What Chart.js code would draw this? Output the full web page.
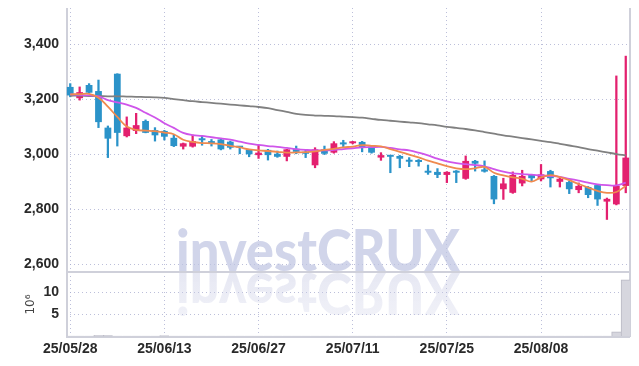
<!DOCTYPE html>
<html>
<head>
<meta charset="utf-8">
<script src="https://cdn.jsdelivr.net/npm/chart.js@4.4.1/dist/chart.umd.min.js"></script>
<style>
  html, body { margin: 0; padding: 0; background: #fff; }
  #wrap { width: 639px; height: 366px; position: relative; }
</style>
</head>
<body>
<div id="wrap"><canvas id="chart"></canvas></div>
<script>
// ---------- Data ----------
const dates = [
  '25/05/28','25/05/29','25/05/30','25/06/02','25/06/04','25/06/05','25/06/09','25/06/10','25/06/11','25/06/12',
  '25/06/13','25/06/16','25/06/17','25/06/18','25/06/19','25/06/20','25/06/23','25/06/24','25/06/25','25/06/26',
  '25/06/27','25/06/30','25/07/01','25/07/02','25/07/03','25/07/04','25/07/07','25/07/08','25/07/09','25/07/10',
  '25/07/11','25/07/14','25/07/15','25/07/16','25/07/17','25/07/18','25/07/21','25/07/22','25/07/23','25/07/24',
  '25/07/25','25/07/28','25/07/29','25/07/30','25/07/31','25/08/01','25/08/04','25/08/05','25/08/06','25/08/07',
  '25/08/08','25/08/11','25/08/12','25/08/13','25/08/14','25/08/18','25/08/19','25/08/20','25/08/21','25/08/22'
];

const opens = [
  3244, 3203, 3251, 3229, 3096, 3292, 3065, 3084, 3120, 3087,
  3084, 3059, 3027, 3027, 3057, 3047, 3053, 3045, 3027, 3015,
  2996, 3015, 3001, 2990, 3019, 3007, 2959, 3017, 3005, 3039,
  3039, 3044, 3027, 2987, 2993, 2993, 2975, 2978, 2938, 2935,
  2924, 2936, 2910, 2975, 2944, 2920, 2872, 2859, 2893, 2924,
  2908, 2938, 2899, 2898, 2869, 2880, 2887, 2827, 2817, 2884
];
const highs = [
  3256, 3244, 3256, 3269, 3102, 3292, 3135, 3148, 3124, 3096,
  3086, 3069, 3040, 3069, 3065, 3053, 3055, 3047, 3028, 3016,
  3032, 3017, 3011, 3017, 3029, 3017, 3023, 3029, 3045, 3050,
  3046, 3046, 3029, 3005, 2994, 2995, 2987, 2980, 2960, 2947,
  2936, 2940, 2993, 2977, 2975, 2922, 2912, 2935, 2941, 2926,
  2962, 2941, 2912, 2901, 2895, 2882, 2889, 2840, 3284, 3356
];
const lows = [
  3208, 3196, 3222, 3096, 2987, 3029, 3062, 3074, 3077, 3047,
  3051, 3027, 3018, 3025, 3032, 3029, 3015, 3018, 3001, 2990,
  2984, 2978, 2988, 2975, 3001, 2987, 2950, 2998, 3003, 3027,
  3037, 3008, 3003, 2977, 2932, 2950, 2954, 2956, 2926, 2914,
  2896, 2896, 2908, 2938, 2934, 2819, 2835, 2857, 2884, 2900,
  2902, 2880, 2880, 2856, 2859, 2841, 2813, 2762, 2815, 2859
];
const closes = [
  3213, 3225, 3223, 3116, 3056, 3077, 3096, 3105, 3077, 3068,
  3063, 3029, 3039, 3047, 3050, 3039, 3017, 3023, 3023, 2999,
  3005, 2996, 2990, 3017, 3008, 3001, 3017, 3001, 3039, 3035,
  3045, 3023, 3005, 2996, 2990, 2983, 2972, 2971, 2932, 2924,
  2935, 2932, 2975, 2965, 2936, 2835, 2893, 2924, 2920, 2912,
  2926, 2912, 2910, 2872, 2884, 2851, 2835, 2837, 2884, 2987
];
// volume in millions
const volumes = [
  0.02, 0.02, 0.02, 0.2, 0.2, 0.02, 0.02, 0.02, 0.02, 0.02,
  0.15, 0.02, 0.02, 0.02, 0.02, 0.02, 0.02, 0.02, 0.02, 0.02,
  0.02, 0.02, 0.02, 0.02, 0.02, 0.02, 0.02, 0.02, 0.02, 0.02,
  0.02, 0.02, 0.02, 0.02, 0.02, 0.02, 0.02, 0.02, 0.02, 0.02,
  0.02, 0.02, 0.02, 0.02, 0.02, 0.02, 0.02, 0.02, 0.02, 0.02,
  0.02, 0.02, 0.02, 0.02, 0.02, 0.02, 0.02, 0.02, 1.0, 12.8
];

const maShort = [
  3217, 3218, 3219, 3205, 3172, 3135, 3100, 3088, 3085, 3083,
  3078, 3072, 3052, 3044, 3040, 3039, 3036, 3030, 3024, 3017,
  3013, 3011, 3008, 3005, 3006, 3007, 3010, 3015, 3019, 3024,
  3027, 3032, 3030, 3028, 3018, 3008, 2998, 2988, 2976, 2966,
  2956, 2948, 2945, 2948, 2953, 2932, 2922, 2915, 2910, 2900,
  2915, 2923, 2916, 2905, 2891, 2878, 2866, 2859, 2862, 2884
];
const maMid = [
  3217, 3215, 3213, 3210, 3196, 3188, 3180, 3168, 3150, 3133,
  3112, 3095, 3077, 3069, 3066, 3061, 3057, 3052, 3045, 3038,
  3033, 3029, 3026, 3022, 3018, 3015, 3013, 3013, 3015, 3018,
  3021, 3024, 3025, 3026, 3022, 3017, 3013, 3005, 2995, 2983,
  2973, 2967, 2963, 2960, 2955, 2945, 2936, 2930, 2927, 2925,
  2922, 2920, 2917, 2910, 2903, 2896, 2890, 2887, 2886, 2896
];
const maLong = [
  3212, 3212, 3211, 3211, 3210, 3210, 3209, 3208, 3207, 3206,
  3204, 3200, 3196, 3192, 3189, 3186, 3183, 3180, 3177, 3174,
  3171, 3167, 3160, 3153, 3146, 3142, 3140, 3139, 3138, 3136,
  3134, 3132, 3128, 3124, 3121, 3118, 3115, 3112, 3108, 3104,
  3099, 3095, 3091, 3086, 3080, 3074, 3068, 3063, 3058, 3053,
  3048, 3043, 3037, 3031, 3025, 3018, 3012, 3006, 3000, 2995
];

const priceTicks = [2600, 2800, 3000, 3200, 3400];
const volumeTicks = [5, 10];
const dateTickIdx = [0, 10, 20, 30, 40, 50];

// ---------- Styles ----------
const UP = '#e3206f';
const DOWN = '#2b93c9';
const GRID = 'rgba(165,170,205,0.75)';
const FRAME = '#cfd0da';
const TICK_FONT = { family: '"Liberation Sans", Arial, sans-serif', size: 14, weight: 'bold' };

const candleColors = opens.map((o, i) => closes[i] >= o ? UP : DOWN);
const bodies = opens.map((o, i) => ({ x: i, y: [Math.min(o, closes[i]), Math.max(o, closes[i])] }));
const wicks = lows.map((l, i) => ({ x: i, y: [l, highs[i]] }));
const vols = volumes.map((v, i) => ({ x: i, y: v }));
const line = arr => arr.map((v, i) => ({ x: i, y: v }));

// no extra label padding, the panel edges are fixed by the layout padding
function noPad(s) {
  s.paddingTop = 0; s.paddingBottom = 0; s.paddingLeft = 0; s.paddingRight = 0;
}

// ---------- Plugins ----------
const watermark = {
  id: 'watermark',
  beforeDatasetsDraw(chart) {
    const ctx = chart.ctx;
    const txt = 'investCRUX';
    ctx.save();
    ctx.font = '900 58px Lato, "Liberation Sans", sans-serif';
    const w = ctx.measureText(txt).width;
    ctx.translate(176, 271);
    ctx.scale(284 / w, 1);
    ctx.fillStyle = 'rgba(190,195,225,0.7)';
    ctx.fillText(txt, 0, 0);
    // reflection
    ctx.translate(0, 2);
    ctx.scale(1, -1);
    const g = ctx.createLinearGradient(0, 0, 0, -46);
    g.addColorStop(0, 'rgba(200,203,228,0.45)');
    g.addColorStop(1, 'rgba(200,203,228,0.25)');
    ctx.fillStyle = g;
    ctx.fillText(txt, 0, 0);
    ctx.restore();
  }
};

const frame = {
  id: 'frame',
  beforeDatasetsDraw(chart) {
    const { ctx, chartArea } = chart;
    const sep = chart.scales.y.bottom;
    ctx.save();
    ctx.strokeStyle = FRAME;
    ctx.lineWidth = 2;
    ctx.beginPath();
    ctx.moveTo(chartArea.left + 1, chartArea.top);
    ctx.lineTo(chartArea.left + 1, chartArea.bottom);
    ctx.moveTo(chartArea.right, chartArea.top);
    ctx.lineTo(chartArea.right, chartArea.bottom);
    ctx.moveTo(chartArea.left, chartArea.bottom);
    ctx.lineTo(chartArea.right, chartArea.bottom);
    ctx.moveTo(chartArea.left, sep);
    ctx.lineTo(chartArea.right, sep);
    ctx.stroke();
    ctx.restore();
  }
};

// ---------- Chart ----------
const ctx = document.getElementById('chart').getContext('2d');
new Chart(ctx, {
  data: {
    datasets: [
      { type: 'line', data: line(maShort), yAxisID: 'y', borderColor: '#f08a4e', borderWidth: 1.8, pointRadius: 0, tension: 0.4 },
      { type: 'line', data: line(maMid), yAxisID: 'y', borderColor: '#cf55ea', borderWidth: 1.8, pointRadius: 0, tension: 0.4 },
      { type: 'line', data: line(maLong), yAxisID: 'y', borderColor: '#808080', borderWidth: 1.8, pointRadius: 0, tension: 0.4 },
      { type: 'bar', data: bodies, yAxisID: 'y', backgroundColor: candleColors, grouped: false,
        barPercentage: 0.72, categoryPercentage: 1, minBarLength: 2 },
      { type: 'bar', data: wicks, yAxisID: 'y', backgroundColor: candleColors, grouped: false, barThickness: 1.6 },
      { type: 'bar', data: vols, yAxisID: 'yv', backgroundColor: '#d6d6de', borderColor: '#b9b9c4',
        borderWidth: { top: 1, left: 1 }, grouped: false, barPercentage: 1, categoryPercentage: 1 }
    ]
  },
  options: {
    responsive: true,
    maintainAspectRatio: false,
    animation: false,
    layout: { padding: { top: 8, right: 9, left: 0, bottom: 0 } },
    plugins: { legend: { display: false }, tooltip: { enabled: false } },
    scales: {
      x: {
        type: 'linear',
        min: -0.45,
        max: 59.45,
        offset: false,
        afterBuildTicks: s => { s.ticks = dateTickIdx.map(v => ({ value: v })); },
        afterFit: s => { s.height = 29; noPad(s); },
        ticks: { callback: v => dates[v] || '', color: '#2a2a2a', font: TICK_FONT, padding: 4, maxRotation: 0, autoSkip: false },
        grid: { color: GRID, offset: false, drawTicks: false },
        border: { display: false, dash: [1, 3] }
      },
      yv: {
        type: 'linear',
        position: 'left',
        stack: 'panels',
        stackWeight: 65,
        min: -0.2,
        max: 14.6,
        afterBuildTicks: s => { s.ticks = volumeTicks.map(v => ({ value: v })); },
        afterFit: s => { s.width = 66; noPad(s); },
        ticks: { color: '#2a2a2a', font: TICK_FONT, padding: 7 },
        grid: { color: GRID, drawTicks: false },
        border: { display: false, dash: [1, 3] },
        title: { display: true, text: '10\u2076', color: '#444', font: { family: '"DejaVu Sans", sans-serif', size: 12 }, padding: { top: 24, bottom: 0 } }
      },
      y: {
        type: 'linear',
        position: 'left',
        stack: 'panels',
        stackWeight: 264,
        min: 2571,
        max: 3531,
        afterBuildTicks: s => { s.ticks = priceTicks.map(v => ({ value: v })); },
        afterFit: s => { s.width = 66; noPad(s); },
        ticks: { callback: v => v.toLocaleString('en-US'), color: '#2a2a2a', font: TICK_FONT, padding: 7 },
        grid: { color: GRID, drawTicks: false },
        border: { display: false, dash: [1, 3] }
      }
    }
  },
  plugins: [watermark, frame]
});
</script>
</body>
</html>
